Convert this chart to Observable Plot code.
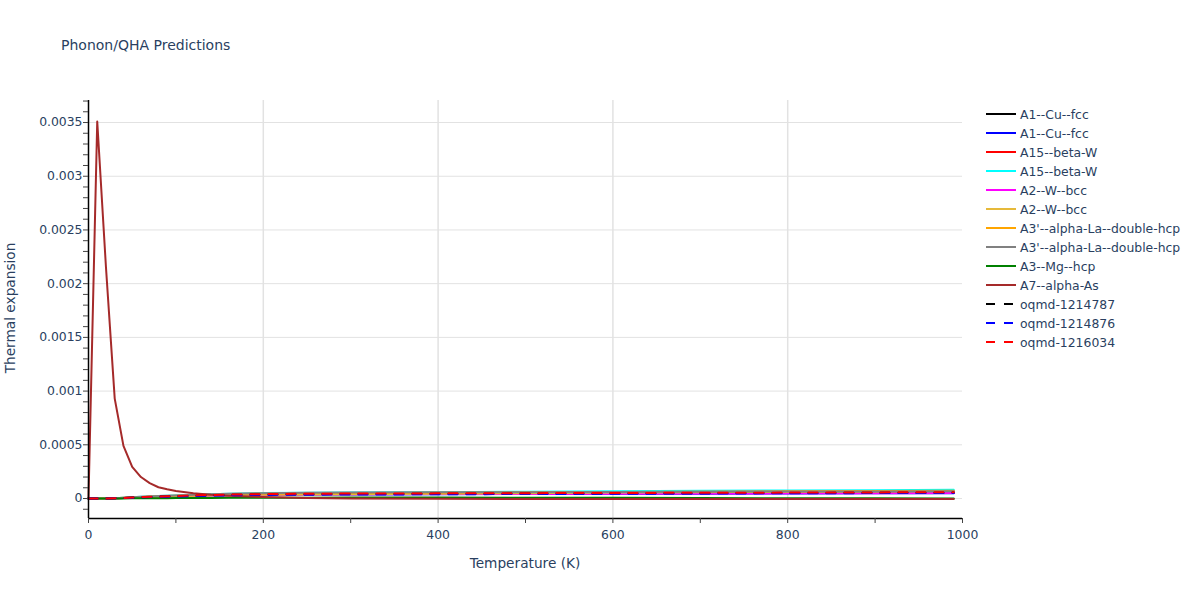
<!DOCTYPE html>
<html>
<head>
<meta charset="utf-8">
<script src="https://cdn.jsdelivr.net/npm/d3@7"></script>
<script src="https://cdn.jsdelivr.net/npm/@observablehq/plot@0.6"></script>
<style>
  html, body { margin: 0; padding: 0; background: #fff; }
  #wrap { position: relative; width: 1200px; height: 600px; font-family: "DejaVu Sans", Verdana, sans-serif; color: #2a3f5f; }
  #wrap svg.plot { position: absolute; left: 0; top: 0; }
  .title { position: absolute; left: 61px; top: 35px; font-size: 14px; line-height: 20px; color: #2a3f5f; white-space: nowrap; }
  .xtitle { position: absolute; left: 0; width: 1050px; text-align: center; top: 553px; font-size: 13.7px; line-height: 20px; }
  .ytitle { position: absolute; left: 10px; top: 308px; font-size: 13.7px; line-height: 20px; transform: translate(-50%, -50%) rotate(-90deg); white-space: nowrap; }
  #legend { position: absolute; left: 980px; top: 100px; }
</style>
</head>
<body>
<div id="wrap">
  <div class="title">Phonon/QHA Predictions</div>
  <div class="xtitle">Temperature (K)</div>
  <div class="ytitle">Thermal expansion</div>
</div>
<script>
// ---- data ----
const temps = [0,10,20,30,40,50,60,70,80,90,100,120,140,160,200,250,300,400,500,600,700,800,900,990];

const seriesNames = [
  "A1--Cu--fcc", "A1--Cu--fcc", "A15--beta-W", "A15--beta-W", "A2--W--bcc", "A2--W--bcc",
  "A3'--alpha-La--double-hcp", "A3'--alpha-La--double-hcp", "A3--Mg--hcp", "A7--alpha-As",
  "oqmd-1214787", "oqmd-1214876", "oqmd-1216034"
];
const seriesColors = ["black","blue","red","cyan","magenta","#e6b93a","orange","gray","green","#a52a2a","black","blue","red"];
const seriesDashed = [false,false,false,false,false,false,false,false,false,false,true,true,true];

const cuFcc1   = [0,2e-7,9e-7,2.6e-6,5.3e-6,8.8e-6,1.23e-5,1.54e-5,1.80e-5,2.07e-5,2.29e-5,2.73e-5,3.17e-5,3.52e-5,3.96e-5,4.22e-5,4.40e-5,4.60e-5,4.80e-5,5.00e-5,5.15e-5,5.30e-5,5.45e-5,5.60e-5];
const cuFcc2   = [0,2e-7,8e-7,2.3e-6,4.6e-6,7.6e-6,1.06e-5,1.33e-5,1.56e-5,1.79e-5,1.98e-5,2.36e-5,2.74e-5,3.04e-5,3.42e-5,3.65e-5,3.80e-5,4.00e-5,4.20e-5,4.40e-5,4.55e-5,4.70e-5,4.85e-5,5.00e-5];
const betaW1   = [0,2e-7,9e-7,2.7e-6,5.4e-6,9.0e-6,1.26e-5,1.58e-5,1.85e-5,2.12e-5,2.34e-5,2.79e-5,3.24e-5,3.60e-5,4.05e-5,4.32e-5,4.50e-5,4.70e-5,4.90e-5,5.10e-5,5.30e-5,5.45e-5,5.60e-5,5.80e-5];
const betaW2   = [0,3e-7,1.1e-6,3.4e-6,6.7e-6,1.12e-5,1.57e-5,1.96e-5,2.30e-5,2.63e-5,2.91e-5,3.47e-5,4.03e-5,4.48e-5,5.04e-5,5.38e-5,5.60e-5,5.95e-5,6.35e-5,6.80e-5,7.15e-5,7.50e-5,7.80e-5,8.10e-5];
const wBcc1    = [0,2e-7,8e-7,2.3e-6,4.7e-6,7.8e-6,1.09e-5,1.37e-5,1.60e-5,1.83e-5,2.03e-5,2.42e-5,2.81e-5,3.12e-5,3.51e-5,3.74e-5,3.90e-5,4.10e-5,4.30e-5,4.50e-5,4.65e-5,4.80e-5,4.95e-5,5.10e-5];
const wBcc2    = [0,2e-7,8e-7,2.4e-6,4.8e-6,8.0e-6,1.12e-5,1.40e-5,1.64e-5,1.88e-5,2.08e-5,2.48e-5,2.88e-5,3.20e-5,3.60e-5,3.84e-5,4.00e-5,4.50e-5,5.00e-5,5.50e-5,5.90e-5,6.30e-5,6.65e-5,7.00e-5];
const laDhcp1  = [0,3e-7,1.0e-6,3.0e-6,6.0e-6,1.00e-5,1.40e-5,1.75e-5,2.05e-5,2.35e-5,2.60e-5,3.10e-5,3.60e-5,4.00e-5,4.50e-5,4.80e-5,5.00e-5,5.40e-5,5.75e-5,6.10e-5,6.40e-5,6.70e-5,6.95e-5,7.20e-5];
const laDhcp2  = [0,3e-7,1.1e-6,3.3e-6,6.6e-6,1.10e-5,1.54e-5,1.93e-5,2.26e-5,2.59e-5,2.86e-5,3.41e-5,3.96e-5,4.40e-5,4.95e-5,5.28e-5,5.50e-5,5.75e-5,5.95e-5,6.15e-5,6.35e-5,6.50e-5,6.65e-5,6.80e-5];
const mgHcp    = [0,5e-8,2e-7,6e-7,1.0e-6,1.5e-6,2.0e-6,2.5e-6,3.0e-6,3.5e-6,4.0e-6,4.8e-6,5.6e-6,6.2e-6,7.2e-6,8.2e-6,9.0e-6,8.5e-6,7.5e-6,6.0e-6,4.5e-6,3.0e-6,1.5e-6,0];
const alphaAs  = [0,0.00351,0.00215,0.00093,0.00049,0.000295,0.0002,0.000143,0.000105,8.6e-5,7.0e-5,5.0e-5,3.6e-5,2.6e-5,1.3e-5,5e-6,1e-6,-3e-6,-4e-6,-4e-6,-4e-6,-4e-6,-4e-6,-4e-6];
const oqmd1214787 = [0,2e-7,8e-7,2.5e-6,5.0e-6,8.4e-6,1.18e-5,1.47e-5,1.72e-5,1.97e-5,2.18e-5,2.60e-5,3.02e-5,3.36e-5,3.78e-5,4.03e-5,4.20e-5,4.40e-5,4.60e-5,4.80e-5,5.00e-5,5.15e-5,5.35e-5,5.50e-5];
const oqmd1214876 = [0,2e-7,7e-7,2.2e-6,4.4e-6,7.4e-6,1.04e-5,1.30e-5,1.52e-5,1.74e-5,1.92e-5,2.29e-5,2.66e-5,2.96e-5,3.33e-5,3.55e-5,3.70e-5,3.95e-5,4.20e-5,4.45e-5,4.65e-5,4.85e-5,5.05e-5,5.20e-5];
const oqmd1216034 = [0,2e-7,9e-7,2.8e-6,5.5e-6,9.2e-6,1.29e-5,1.61e-5,1.89e-5,2.16e-5,2.39e-5,2.85e-5,3.31e-5,3.68e-5,4.14e-5,4.42e-5,4.60e-5,4.80e-5,4.98e-5,5.16e-5,5.33e-5,5.50e-5,5.70e-5,5.90e-5];

const seriesValues = [cuFcc1, cuFcc2, betaW1, betaW2, wBcc1, wBcc2, laDhcp1, laDhcp2, mgHcp, alphaAs, oqmd1214787, oqmd1214876, oqmd1216034];

const yMajorTicks = [0, 0.0005, 0.001, 0.0015, 0.002, 0.0025, 0.003, 0.0035];
const yMinorTicks = [-0.0001,0,0.0001,0.0002,0.0003,0.0004,0.0005,0.0006,0.0007,0.0008,0.0009,0.001,0.0011,0.0012,0.0013,0.0014,0.0015,0.0016,0.0017,0.0018,0.0019,0.002,0.0021,0.0022,0.0023,0.0024,0.0025,0.0026,0.0027,0.0028,0.0029,0.003,0.0031,0.0032,0.0033,0.0034,0.0035,0.0036,0.0037];
const xMajorTicks = [0, 200, 400, 600, 800, 1000];
const xMinorTicks = [0,100,200,300,400,500,600,700,800,900,1000];
const xGridTicks = [200, 400, 600, 800];

// ---- build ----
const yDomain = [-0.000186, 0.003705];
const gridColor = "#e2e2e2";
const font = '"DejaVu Sans", Verdana, sans-serif';

const lineMarks = seriesNames.map((name, i) => {
  const rows = temps.map((t, k) => ({T: t, v: seriesValues[i][k]}));
  return Plot.line(rows, {
    x: "T", y: "v", stroke: seriesColors[i], strokeWidth: 2,
    strokeDasharray: seriesDashed[i] ? "9,9" : null,
    strokeLinejoin: "round", curve: "linear"
  });
});

const chart = Plot.plot({
  width: 1200, height: 600,
  marginLeft: 88, marginRight: 238, marginTop: 100, marginBottom: 82,
  style: {fontFamily: font, fontSize: "12.4px", color: "#2a3f5f", background: "transparent", overflow: "visible"},
  x: {domain: [0, 1000]},
  y: {domain: yDomain},
  marks: [
    Plot.gridY(yMajorTicks, {stroke: gridColor, strokeOpacity: 1, strokeWidth: 1}),
    Plot.gridX(xGridTicks, {stroke: gridColor, strokeOpacity: 1, strokeWidth: 1.5}),
    ...lineMarks,
    Plot.ruleX([0], {stroke: "#000", strokeWidth: 1.5}),
    Plot.ruleY([yDomain[0]], {stroke: "#000", strokeWidth: 1.5}),
    Plot.axisY(yMinorTicks, {tickSize: 5, tickFormat: () => "", stroke: "#444", label: null}),
    Plot.axisY(yMajorTicks, {tickSize: 0, tickPadding: 6, tickFormat: d => d3.format("~g")(d), fill: "#2a3f5f", label: null}),
    Plot.axisX(xMinorTicks, {tickSize: 5, tickFormat: () => "", stroke: "#444", label: null}),
    Plot.axisX(xMajorTicks, {tickSize: 0, tickPadding: 12, tickFormat: d => d3.format("d")(d), fill: "#2a3f5f", label: null})
  ]
});
chart.classList.add("plot");
document.getElementById("wrap").appendChild(chart);

// ---- legend ----
const ns = "http://www.w3.org/2000/svg";
const leg = document.createElementNS(ns, "svg");
leg.setAttribute("id", "legend");
leg.setAttribute("width", "220");
leg.setAttribute("height", "260");
seriesNames.forEach((name, i) => {
  const y = 14 + i * 19;
  const ln = document.createElementNS(ns, "line");
  ln.setAttribute("x1", 6); ln.setAttribute("x2", 36);
  ln.setAttribute("y1", y); ln.setAttribute("y2", y);
  ln.setAttribute("stroke", seriesColors[i]);
  ln.setAttribute("stroke-width", 2);
  if (seriesDashed[i]) ln.setAttribute("stroke-dasharray", "9,9");
  leg.appendChild(ln);
  const tx = document.createElementNS(ns, "text");
  tx.setAttribute("x", 40); tx.setAttribute("y", y + 4.5);
  tx.setAttribute("font-size", "12.4px");
  tx.setAttribute("font-family", font);
  tx.setAttribute("fill", "#2a3f5f");
  tx.textContent = name;
  leg.appendChild(tx);
});
document.getElementById("wrap").appendChild(leg);
</script>
</body>
</html>
